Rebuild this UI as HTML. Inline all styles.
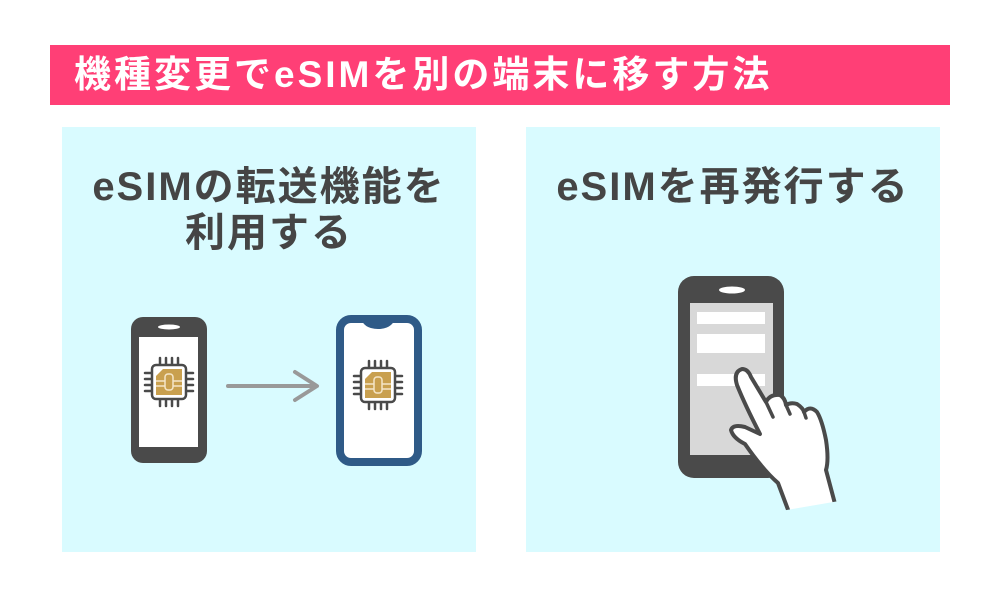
<!DOCTYPE html>
<html><head><meta charset="utf-8"><style>
body{margin:0;width:1000px;height:600px;background:#fff;position:relative;overflow:hidden;font-family:"Liberation Sans","Noto Sans CJK JP",sans-serif}
.hdr{position:absolute;left:50px;top:45px;width:900px;height:60px;background:#ff3f76;color:#fff;font-weight:bold;font-size:37px;line-height:60px;padding-left:24px;box-sizing:border-box;letter-spacing:3px;white-space:nowrap}
.p{position:absolute;top:127px;width:414px;height:425px;background:#d9fbff}
.t{position:absolute;width:100%;text-align:center;color:#454545;font-weight:bold;font-size:40px;line-height:46px;letter-spacing:2px;white-space:nowrap}
</style></head><body>
<div class="hdr">機種変更でeSIMを別の端末に移す方法</div>
<div class="p" style="left:62px"><div class="t" style="top:37px">eSIMの転送機能を<br>利用する</div></div>
<div class="p" style="left:526px"><div class="t" style="top:37px">eSIMを再発行する</div></div>
<svg style="position:absolute;left:0;top:0" width="1000" height="600">
<defs><g id="chip">
<g stroke="#4a4a4a" stroke-width="2.5" stroke-linecap="round">
<line x1="-9" y1="-24" x2="-9" y2="-17"/><line x1="-3" y1="-24" x2="-3" y2="-17"/><line x1="3" y1="-24" x2="3" y2="-17"/><line x1="9" y1="-24" x2="9" y2="-17"/>
<line x1="-9" y1="24" x2="-9" y2="17"/><line x1="-3" y1="24" x2="-3" y2="17"/><line x1="3" y1="24" x2="3" y2="17"/><line x1="9" y1="24" x2="9" y2="17"/>
<line y1="-9" x1="-24" y2="-9" x2="-17"/><line y1="-3" x1="-24" y2="-3" x2="-17"/><line y1="3" x1="-24" y2="3" x2="-17"/><line y1="9" x1="-24" y2="9" x2="-17"/>
<line y1="-9" x1="24" y2="-9" x2="17"/><line y1="-3" x1="24" y2="-3" x2="17"/><line y1="3" x1="24" y2="3" x2="17"/><line y1="9" x1="24" y2="9" x2="17"/>
</g>
<rect x="-17" y="-17" width="34" height="34" rx="4" fill="#fff" stroke="#4a4a4a" stroke-width="2.5"/>
<path d="M-6,-13 H13 V13 H-13 V-6 Z" fill="#c9a04f"/>
<g stroke="#f5e6c8" stroke-width="1.5" fill="none"><rect x="-4" y="-8" width="8" height="16" rx="3"/><line x1="-13" y1="-1" x2="-4" y2="-1"/><line x1="4" y1="-1" x2="13" y2="-1"/><line x1="-13" y1="4" x2="-4" y2="4"/><line x1="4" y1="4" x2="13" y2="4"/></g>
</g></defs>
<rect x="131" y="317" width="76" height="146" rx="12" fill="#4a4a4a"/>
<rect x="139" y="337" width="59" height="110" fill="#fff"/>
<ellipse cx="169" cy="327" rx="11" ry="2.5" fill="#fff"/>
<use href="#chip" x="169" y="382"/>
<line x1="228" y1="386" x2="316" y2="386" stroke="#999" stroke-width="4" stroke-linecap="round"/>
<polyline points="295,372 317,386 295,400" fill="none" stroke="#999" stroke-width="4" stroke-linecap="round" stroke-linejoin="round"/>
<rect x="340" y="319" width="78" height="143" rx="11" fill="#fff" stroke="#2f5a87" stroke-width="8"/>
<path d="M360,316 Q363,329 378,329 Q393,329 396,316 Z" fill="#2f5a87"/>
<use href="#chip" x="378" y="385"/>
<rect x="678" y="276" width="106" height="202" rx="16" fill="#4a4a4a"/>
<rect x="690" y="303" width="83" height="152" fill="#d8d8d8"/>
<ellipse cx="732" cy="290" rx="13" ry="3.5" fill="#fff"/>
<rect x="697" y="312" width="68" height="12" fill="#fff"/>
<rect x="697" y="334" width="68" height="19" fill="#fff"/>
<rect x="697" y="374" width="68" height="12" fill="#fff"/>
<path d="M790,515 L778,483 Q763,470 745,444 Q733,438 731,430 Q733,424 745,427 L760,434 Q745,405 737,385 Q733,372 742,369 Q748,369 751,377 L766,402 Q770,394 780,395 Q785,398 786,405 Q791,402 797,404 Q803,408 804,412 Q810,405 817,412 Q822,420 826,440 Q829,460 826,470 L838,515 Z" fill="#fff" stroke="#4a4a4a" stroke-width="4" stroke-linejoin="round"/>
<g stroke="#4a4a4a" stroke-width="3.5" fill="none" stroke-linecap="round"><path d="M766,402 L773,417"/><path d="M786,405 L790,414"/><path d="M804,412 L806,418"/></g>
<polygon points="775,512 845,500 845,520 775,520" fill="#d9fbff"/>
</svg>
</body></html>
